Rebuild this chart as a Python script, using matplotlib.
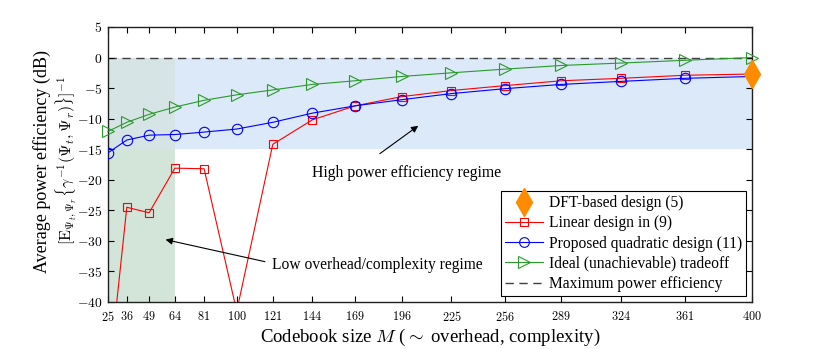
import numpy as np
import matplotlib
matplotlib.use('Agg')
import matplotlib.pyplot as plt
from matplotlib.ticker import FuncFormatter

plt.rcParams['font.family'] = ['Liberation Serif', 'DejaVu Serif']
plt.rcParams['mathtext.fontset'] = 'cm'

# codebook sizes M
M = [25, 36, 49, 64, 81, 100, 121, 144, 169, 196, 225, 256, 289, 324, 361, 400]
# average power efficiency (dB)
linear_design = [-53.7, -24.5, -25.4, -18.1, -18.2, -41.5, -14.2, -10.2, -7.9, -6.4, -5.4, -4.6, -3.8, -3.4, -2.9, -2.7]
quadratic_design = [-15.6, -13.5, -12.7, -12.6, -12.2, -11.7, -10.6, -9.1, -7.9, -6.9, -5.9, -5.1, -4.4, -3.9, -3.4, -3.1]
ideal_tradeoff = [-12.1, -10.6, -9.3, -8.1, -7.0, -6.1, -5.3, -4.4, -3.8, -3.1, -2.5, -1.9, -1.3, -0.9, -0.45, 0.0]
dft_M = [400]
dft_value = [-2.7]
max_efficiency = 0.0

# shaded regimes
high_eff_x = [25, 400]
high_eff_y = [-15, 0]
low_ovh_x = [25, 64]
low_ovh_y = [-40, 0]

Fig = plt.figure(figsize=(8.3, 3.49), dpi=100)
Ax = Fig.add_axes([0.130, 0.1347, 0.776, 0.788])

Ax.fill_between(high_eff_x, high_eff_y[0], high_eff_y[1], color='#dce9f8', lw=0, zorder=0)
Ax.fill_between(low_ovh_x, low_ovh_y[0], high_eff_y[0], color='#d3e4d8', lw=0, zorder=0)
Ax.fill_between(low_ovh_x, high_eff_y[0], low_ovh_y[1], color='#d6e4e6', lw=0, zorder=0)

Ax.axhline(max_efficiency, color='#404040', ls=(0, (6, 4)), lw=1.0, zorder=1)

Ax.plot(M, linear_design, '-s', color='red', mfc='none', ms=5.5, mew=0.8, lw=0.8, zorder=3)
Ax.plot(M, quadratic_design, '-o', color='blue', mfc='none', ms=7.5, mew=0.8, lw=0.8, zorder=3)
Ax.plot(M, ideal_tradeoff, '->', color='#2a9a2a', mfc='none', ms=8.5, mew=0.8, lw=0.8, zorder=3, clip_on=False)
Ax.plot(dft_M, dft_value, 'd', color='#ff8c00', ms=14, ls='none', zorder=4, clip_on=False)

# legend proxies
h_dft, = Ax.plot([], [], 'd', color='#ff8c00', ms=14, ls='none')
h_lin, = Ax.plot([], [], '-s', color='red', mfc='none', ms=5.5, mew=0.8, lw=0.8)
h_quad, = Ax.plot([], [], '-o', color='blue', mfc='none', ms=7, mew=0.8, lw=0.8)
h_ideal, = Ax.plot([], [], '->', color='#2a9a2a', mfc='none', ms=8, mew=0.8, lw=0.8)
h_max, = Ax.plot([], [], color='#404040', ls=(0, (6, 4)), lw=1.0)
Ax.legend([h_dft, h_lin, h_quad, h_ideal, h_max],
          ['DFT-based design (5)', 'Linear design in (9)', 'Proposed quadratic design (11)',
           'Ideal (unachievable) tradeoff', 'Maximum power efficiency'],
          loc='lower right', bbox_to_anchor=(0.9907, 0.022), fontsize=11.2, frameon=True, fancybox=False,
          framealpha=1, edgecolor='black', borderpad=0.25, labelspacing=0.27, handlelength=2.45,
          handletextpad=0.4, borderaxespad=0.0)
Ax.get_legend().get_frame().set_linewidth(0.8)

Ax.annotate('', xy=(207, -10.9), xytext=(182, -16.0),
            arrowprops=dict(arrowstyle='-|>', color='black', lw=0.8, mutation_scale=10))
Ax.text(199, -18.9, 'High power efficiency regime', fontsize=11.3, ha='center', va='center')
Ax.annotate('', xy=(57, -29.7), xytext=(118, -33.5),
            arrowprops=dict(arrowstyle='-|>', color='black', lw=0.8, mutation_scale=10))
Ax.text(120.5, -34.0, 'Low overhead/complexity regime', fontsize=11.2, ha='left', va='center')

Ax.set_xlim(25, 400)
Ax.set_ylim(-40, 5)
Ax.set_xticks(M)
Ax.set_yticks(np.arange(-40, 6, 5))
math_fmt = FuncFormatter(lambda v, pos: r'$%d$' % v)
Ax.xaxis.set_major_formatter(math_fmt)
Ax.yaxis.set_major_formatter(math_fmt)
Ax.tick_params(axis='both', direction='in', top=True, right=True, length=4, width=0.8)
Ax.tick_params(axis='x', pad=6, labelsize=8.8)
Ax.tick_params(axis='y', pad=4, labelsize=9.8)
for s in Ax.spines.values():
    s.set_linewidth(1.0)
    s.set_color('#202020')

Ax.set_xlabel(r'Codebook size $M$ ($\sim$ overhead, complexity)', fontsize=13.5, labelpad=2)
Fig.text(0.0505, 0.537, 'Average power efficiency (dB)', rotation=90, fontsize=13, ha='center', va='center')
Fig.text(0.0795, 0.54, r'$[\mathrm{E}_{\mathbf{\Psi}_t,\mathbf{\Psi}_r}\{\gamma^{-1}(\mathbf{\Psi}_t,\mathbf{\Psi}_r)\}]^{-1}$',
         rotation=90, fontsize=11.5, ha='center', va='center')

Fig.savefig('out.png', dpi=100)
plt.close(Fig)
